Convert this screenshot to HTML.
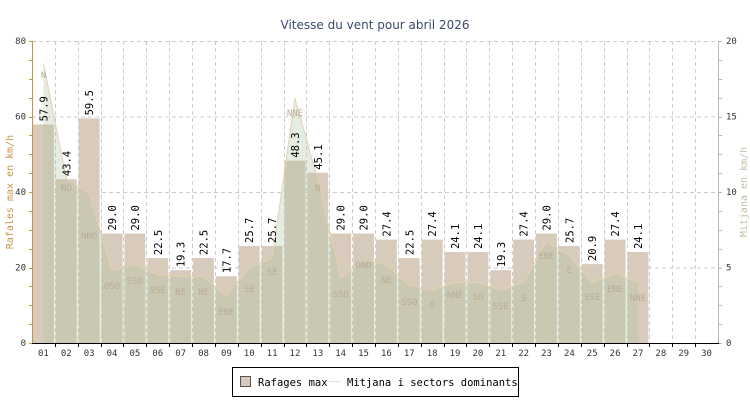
<!DOCTYPE html>
<html><head><meta charset="utf-8"><style>
html,body{margin:0;padding:0;background:#fff;width:750px;height:400px;overflow:hidden}
svg{display:block}
text{font-family:"DejaVu Sans Mono","Liberation Mono",monospace}
</style></head><body>
<svg id="c" width="750" height="400" xmlns="http://www.w3.org/2000/svg">
<text x="375" y="29" text-anchor="middle" font-size="12" fill="#3b4a6b" style="font-family:'DejaVu Sans','Liberation Sans',sans-serif">Vitesse du vent pour abril 2026</text>
<g id="g"></g>
<rect x="232.5" y="367.5" width="286" height="29" fill="#fff" stroke="#000"/>
<rect x="240.5" y="376.5" width="10" height="10" fill="#d8cbbb" stroke="#555"/>
<text x="258" y="386" font-size="10.5" fill="#000">Rafages max</text>
<line x1="329" y1="381.5" x2="340" y2="381.5" stroke="#e8dcc4" stroke-width="1"/>
<text x="347" y="386" font-size="10.5" fill="#000">Mitjana i sectors dominants</text>
</svg>
<script>
var g=document.getElementById('g'),s='';
var X0=32,X1=718,Y0=343,Y80=41,W=(X1-X0)/30;
function y(v){return Y0-v*(Y0-Y80)/80}
function yr(v){return Y0-v*(Y0-Y80)/20}
for(var v=20;v<=80;v+=20)s+='<line x1="'+X0+'" x2="'+X1+'" y1="'+(y(v)+.5)+'" y2="'+(y(v)+.5)+'" stroke="#ccc" stroke-dasharray="4,3"/>';
for(var i=1;i<30;i++){var x=Math.round(X0+i*W)+.5;s+='<line x1="'+x+'" x2="'+x+'" y1="'+Y80+'" y2="'+Y0+'" stroke="#ccc" stroke-dasharray="4,3"/>';}
var gust=[57.9,43.4,59.5,29.0,29.0,22.5,19.3,22.5,17.7,25.7,25.7,48.3,45.1,29.0,29.0,27.4,22.5,27.4,24.1,24.1,19.3,27.4,29.0,25.7,20.9,27.4,24.1];
var mean=[18.5,10.9,9.9,4.8,5.2,4.5,4.4,4.4,3.1,5.0,5.6,16.2,10.8,4.3,5.5,5.2,3.8,3.5,4.0,4.0,3.5,4.0,6.7,5.8,4.0,4.6,4.0];
var dir=[["N",78],["NO",191],["NNO",239],["OSO",289],["SSO",284],["SSE",293],["NE",295],["NE",295],["ENE",315],["SE",292],["SE",275],["NNE",116],["N",191],["SSO",297],["ONO",268],["NE",283],["SSO",305],["O",308],["NNE",298],["SO",300],["SSE",309],["S",301],["ENE",259],["E",273],["SSE",300],["ENE",292],["NNE",301]];
for(var i=0;i<gust.length;i++){var l=X0+i*W+1,t=y(gust[i]);s+='<rect x="'+l+'" y="'+t+'" width="'+(W-2)+'" height="'+(Y0-t)+'" fill="#d8cbbb"/>';}
var p='M'+(X0+W/2)+','+Y0;
for(var i=0;i<mean.length;i++)p+=' L'+(X0+W*(i+.5))+','+yr(mean[i]);
p+=' L'+(X0+W*(mean.length-.5))+','+Y0+'Z';
s+='<path d="'+p+'" fill="#a8c0a0" fill-opacity="0.3"/>';
var q='';for(var i=0;i<mean.length;i++)q+=(i?' L':'M')+(X0+W*(i+.5))+','+yr(mean[i]);
s+='<path d="'+q+'" fill="none" stroke="#e2d2b0" stroke-width="1"/>';
for(var i=0;i<dir.length;i++)s+='<text x="'+(X0+W*(i+.5))+'" y="'+dir[i][1]+'" text-anchor="middle" font-size="9" fill="#b8ab98">'+dir[i][0]+'</text>';
for(var i=0;i<gust.length;i++){var cx=X0+W*(i+.5)+4,t=y(gust[i])-3;s+='<text transform="translate('+cx+','+t+') rotate(-90)" font-size="10.5" fill="#000">'+gust[i].toFixed(1)+'</text>';}
s+='<line x1="'+(X0+.5)+'" x2="'+(X0+.5)+'" y1="'+Y80+'" y2="'+Y0+'" stroke="#c8944a"/>';
s+='<line x1="'+(X1+.5)+'" x2="'+(X1+.5)+'" y1="'+Y80+'" y2="'+Y0+'" stroke="#c2b8a8"/>';
for(var v=0;v<=80;v+=5){var yy=Math.round(y(v))+.5;s+='<line x1="'+(X0-3)+'" x2="'+X0+'" y1="'+yy+'" y2="'+yy+'" stroke="#c8944a"/>';s+='<line x1="'+(X1+1)+'" x2="'+(X1+4)+'" y1="'+yy+'" y2="'+yy+'" stroke="#c2b8a8"/>';}
for(var v=0;v<=80;v+=20)s+='<text x="'+(X0-6)+'" y="'+(y(v)+3)+'" text-anchor="end" font-size="9" fill="#333">'+v+'</text>';
for(var v=0;v<=20;v+=5)s+='<text x="'+(X1+8)+'" y="'+(yr(v)+3)+'" font-size="9" fill="#333">'+v+'</text>';
s+='<line x1="'+X0+'" x2="'+(X1+1)+'" y1="'+(Y0+.5)+'" y2="'+(Y0+.5)+'" stroke="#000"/>';
for(var i=1;i<30;i++){var x=Math.round(X0+i*W)+.5;s+='<line x1="'+x+'" x2="'+x+'" y1="'+Y0+'" y2="'+(Y0+4)+'" stroke="#000"/>';}
for(var i=0;i<30;i++){var d=i+1;s+='<text x="'+(X0+W*(i+.5))+'" y="'+(Y0+13)+'" text-anchor="middle" font-size="9" fill="#333">'+(d<10?'0'+d:d)+'</text>';}
s+='<text transform="translate(13,192) rotate(-90)" text-anchor="middle" font-size="10" fill="#c8944a">Rafales max en km/h</text>';
s+='<text transform="translate(747,192) rotate(-90)" text-anchor="middle" font-size="10" fill="#c8bca8">Mitjana en km/h</text>';
g.innerHTML=s;
</script>
</body></html>
